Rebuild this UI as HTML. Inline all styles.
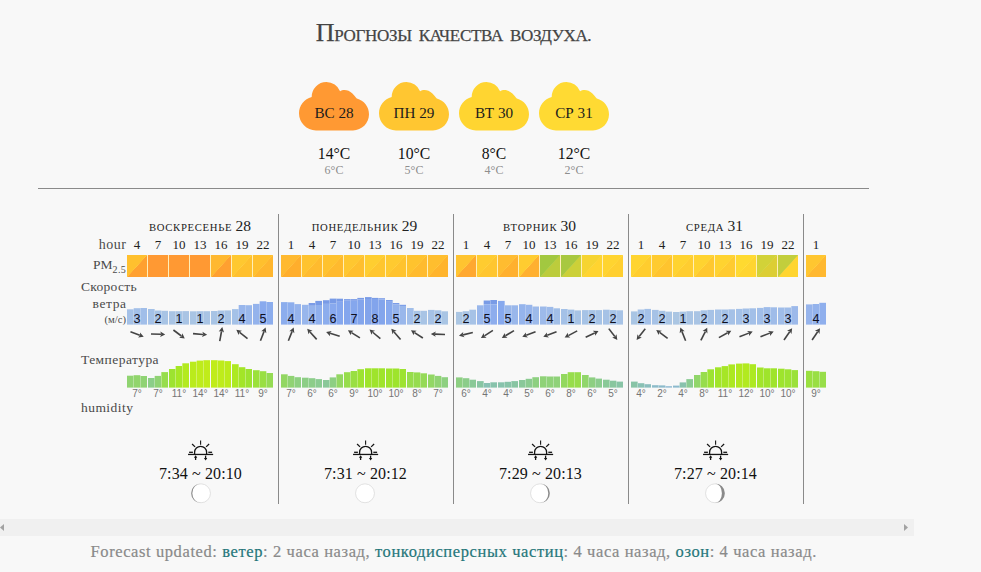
<!DOCTYPE html>
<html lang="ru"><head><meta charset="utf-8"><title>Прогнозы качества воздуха</title>
<style>
html,body{margin:0;padding:0;}
body{width:981px;height:572px;overflow:hidden;background:#f8f8f8;position:relative;font-family:"Liberation Serif",serif;color:#222;}
.a{position:absolute;white-space:nowrap;}
.t{position:absolute;white-space:nowrap;line-height:1;}
.c{text-align:center;}
.r{text-align:right;}
.ttl{left:0;width:907px;top:20.3px;font-size:17px;color:#444;letter-spacing:-0.3px;word-spacing:3px;-webkit-text-stroke:0.25px #444;}
.cl{position:absolute;top:81.7px;width:70px;height:49px;}
.cn{top:104.8px;width:70px;font-size:15.2px;color:#1c1c1c;}
.hi{top:146.3px;width:70px;font-size:15.7px;color:#111;}
.lo{top:163.9px;width:70px;font-size:12px;color:#8e8e8e;}
.hr{left:38px;top:188px;width:831px;height:1px;background:#8a8a8a;}
.vl{top:214px;width:1px;height:290px;background:#8a8a8a;}
.dt{top:218px;font-size:10.7px;color:#222;letter-spacing:0.68px;}
.h{top:238px;width:30px;font-size:13px;color:#222;}
.lb{font-size:13.5px;color:#4a4a4a;}
.pm{position:absolute;top:255px;width:20px;height:22px;}
.pg{position:absolute;top:255px;height:22px;background:#ffefb8;}
.w{position:absolute;}
.wn{top:313.2px;width:20px;font-family:"Liberation Sans",sans-serif;font-size:12.6px;color:#10101e;}
.tl{top:389.2px;width:30px;font-family:"Liberation Sans",sans-serif;font-size:10px;color:#757575;}
.st{top:465.7px;width:120px;font-size:16px;color:#111;letter-spacing:0.12px;}
.ft{left:90.5px;top:543.8px;font-size:16.5px;color:#8a8a8a;letter-spacing:0.6px;-webkit-text-stroke:0.2px;}
.ft b{font-weight:normal;color:#25767a;}
.sb{left:0;top:519.2px;width:913.5px;height:16.5px;background:#f0f0f0;}

</style></head><body>
<div class="t c ttl"><span style="font-size:26px">П</span>РОГНОЗЫ КАЧЕСТВА ВОЗДУХА.</div>
<svg class="cl" style="left:299px" viewBox="0 0 70 49"><path d="M17 48.4 C7.6 48.4 0 40.7 0 31.3 C0 23.5 5.2 17 12.7 14.9 A14.7 14.7 0 0 1 27.4 0 A14.7 14.7 0 0 1 41.1 9.3 C43.8 7.3 49.4 7.4 53.4 11.6 C55.4 13.6 56.6 15.2 57.8 16.6 C65 18.6 70 24.8 70 32.3 C70 41.2 62.8 48.4 54 48.4 Z" fill="#ff9933"/></svg>
<div class="t c cn" style="left:299px">ВС 28</div>
<div class="t c hi" style="left:299px">14°C</div>
<div class="t c lo" style="left:299px">6°C</div>
<svg class="cl" style="left:379px" viewBox="0 0 70 49"><path d="M17 48.4 C7.6 48.4 0 40.7 0 31.3 C0 23.5 5.2 17 12.7 14.9 A14.7 14.7 0 0 1 27.4 0 A14.7 14.7 0 0 1 41.1 9.3 C43.8 7.3 49.4 7.4 53.4 11.6 C55.4 13.6 56.6 15.2 57.8 16.6 C65 18.6 70 24.8 70 32.3 C70 41.2 62.8 48.4 54 48.4 Z" fill="#ffc631"/></svg>
<div class="t c cn" style="left:379px">ПН 29</div>
<div class="t c hi" style="left:379px">10°C</div>
<div class="t c lo" style="left:379px">5°C</div>
<svg class="cl" style="left:459px" viewBox="0 0 70 49"><path d="M17 48.4 C7.6 48.4 0 40.7 0 31.3 C0 23.5 5.2 17 12.7 14.9 A14.7 14.7 0 0 1 27.4 0 A14.7 14.7 0 0 1 41.1 9.3 C43.8 7.3 49.4 7.4 53.4 11.6 C55.4 13.6 56.6 15.2 57.8 16.6 C65 18.6 70 24.8 70 32.3 C70 41.2 62.8 48.4 54 48.4 Z" fill="#ffd531"/></svg>
<div class="t c cn" style="left:459px">ВТ 30</div>
<div class="t c hi" style="left:459px">8°C</div>
<div class="t c lo" style="left:459px">4°C</div>
<svg class="cl" style="left:539px" viewBox="0 0 70 49"><path d="M17 48.4 C7.6 48.4 0 40.7 0 31.3 C0 23.5 5.2 17 12.7 14.9 A14.7 14.7 0 0 1 27.4 0 A14.7 14.7 0 0 1 41.1 9.3 C43.8 7.3 49.4 7.4 53.4 11.6 C55.4 13.6 56.6 15.2 57.8 16.6 C65 18.6 70 24.8 70 32.3 C70 41.2 62.8 48.4 54 48.4 Z" fill="#ffda33"/></svg>
<div class="t c cn" style="left:539px">СР 31</div>
<div class="t c hi" style="left:539px">12°C</div>
<div class="t c lo" style="left:539px">2°C</div>
<div class="a hr"></div>
<div class="a vl" style="left:278px"></div>
<div class="a vl" style="left:453px"></div>
<div class="a vl" style="left:628px"></div>
<div class="a vl" style="left:803px"></div>
<div class="t r lb" style="left:46px;width:80px;top:238.3px;font-size:14px;letter-spacing:0.55px;margin-left:0.5px">hour</div>
<div class="t r lb" style="left:46px;width:80px;top:258.2px">PM<span style="font-size:10px;position:relative;top:3.4px;letter-spacing:0.3px">2.5</span></div>
<div class="t lb" style="left:81px;top:279.5px;letter-spacing:0.3px">Скорость</div>
<div class="t r lb" style="left:46px;width:80px;top:296.8px;letter-spacing:0.6px;margin-left:0.6px">ветра</div>
<div class="t r lb" style="left:46px;width:80px;top:315.3px;font-size:10.6px;margin-left:0">(м/с)</div>
<div class="t lb" style="left:81px;top:352.5px;letter-spacing:0.45px">Температура</div>
<div class="t lb" style="left:81px;top:401px;letter-spacing:0.45px">humidity</div>
<svg class="a" style="left:0;top:290px" width="981" height="100" viewBox="0 290 981 100"><rect x="127.00" y="309.3" width="6.67" height="15.3" fill="#a5c1e7"/><rect x="133.67" y="308.2" width="6.67" height="16.4" fill="#a2bfe8"/><rect x="133.42" y="309.3" width="0.5" height="15.3" fill="#fff" fill-opacity=".16"/><rect x="140.33" y="308.0" width="6.67" height="16.6" fill="#a1bee9"/><rect x="140.08" y="308.2" width="0.5" height="16.4" fill="#fff" fill-opacity=".16"/><rect x="127.00" y="375.7" width="6.67" height="11.9" fill="#90d471"/><rect x="133.67" y="375.2" width="6.67" height="12.4" fill="#91d56c"/><rect x="133.42" y="375.7" width="0.5" height="11.9" fill="#fff" fill-opacity=".3"/><rect x="140.33" y="376.0" width="6.67" height="11.6" fill="#8fd374"/><rect x="140.08" y="376.0" width="0.5" height="11.6" fill="#fff" fill-opacity=".3"/><rect x="148.00" y="309.0" width="6.67" height="15.6" fill="#a4c1e7"/><rect x="154.67" y="310.5" width="6.67" height="14.1" fill="#a7c3e5"/><rect x="154.42" y="310.5" width="0.5" height="14.1" fill="#fff" fill-opacity=".16"/><rect x="161.33" y="310.8" width="6.67" height="13.8" fill="#a8c4e5"/><rect x="161.08" y="310.8" width="0.5" height="13.8" fill="#fff" fill-opacity=".16"/><rect x="148.00" y="378.0" width="6.67" height="9.6" fill="#8cce88"/><rect x="154.67" y="375.9" width="6.67" height="11.7" fill="#90d373"/><rect x="154.42" y="378.0" width="0.5" height="9.6" fill="#fff" fill-opacity=".3"/><rect x="161.33" y="372.1" width="6.67" height="15.5" fill="#97dd4c"/><rect x="161.08" y="375.9" width="0.5" height="11.7" fill="#fff" fill-opacity=".3"/><rect x="169.00" y="311.2" width="6.67" height="13.4" fill="#a9c4e4"/><rect x="175.67" y="311.2" width="6.67" height="13.4" fill="#a9c4e4"/><rect x="175.42" y="311.2" width="0.5" height="13.4" fill="#fff" fill-opacity=".16"/><rect x="182.33" y="311.1" width="6.67" height="13.5" fill="#a9c4e4"/><rect x="182.08" y="311.2" width="0.5" height="13.4" fill="#fff" fill-opacity=".16"/><rect x="169.00" y="369.0" width="6.67" height="18.6" fill="#9de330"/><rect x="175.67" y="366.0" width="6.67" height="21.6" fill="#a6e725"/><rect x="175.42" y="369.0" width="0.5" height="18.6" fill="#fff" fill-opacity=".3"/><rect x="182.33" y="363.3" width="6.67" height="24.3" fill="#b3ea1f"/><rect x="182.08" y="366.0" width="0.5" height="21.6" fill="#fff" fill-opacity=".3"/><rect x="190.00" y="311.3" width="6.67" height="13.3" fill="#a9c5e4"/><rect x="196.67" y="311.2" width="6.67" height="13.4" fill="#a9c4e4"/><rect x="196.42" y="311.3" width="0.5" height="13.3" fill="#fff" fill-opacity=".16"/><rect x="203.33" y="311.2" width="6.67" height="13.4" fill="#a9c4e4"/><rect x="203.08" y="311.2" width="0.5" height="13.4" fill="#fff" fill-opacity=".16"/><rect x="190.00" y="361.7" width="6.67" height="25.9" fill="#baeb1c"/><rect x="196.67" y="360.6" width="6.67" height="27.0" fill="#beec1b"/><rect x="196.42" y="361.7" width="0.5" height="25.9" fill="#fff" fill-opacity=".3"/><rect x="203.33" y="360.2" width="6.67" height="27.4" fill="#c0ec1a"/><rect x="203.08" y="360.6" width="0.5" height="27.0" fill="#fff" fill-opacity=".3"/><rect x="211.00" y="311.0" width="6.67" height="13.6" fill="#a8c4e5"/><rect x="217.67" y="310.5" width="6.67" height="14.1" fill="#a7c3e5"/><rect x="217.42" y="311.0" width="0.5" height="13.6" fill="#fff" fill-opacity=".16"/><rect x="224.33" y="310.4" width="6.67" height="14.2" fill="#a7c3e5"/><rect x="224.08" y="310.5" width="0.5" height="14.1" fill="#fff" fill-opacity=".16"/><rect x="211.00" y="360.2" width="6.67" height="27.4" fill="#c0ec1a"/><rect x="217.67" y="360.5" width="6.67" height="27.1" fill="#beec1b"/><rect x="217.42" y="360.5" width="0.5" height="27.1" fill="#fff" fill-opacity=".3"/><rect x="224.33" y="361.1" width="6.67" height="26.5" fill="#bceb1b"/><rect x="224.08" y="361.1" width="0.5" height="26.5" fill="#fff" fill-opacity=".3"/><rect x="232.00" y="309.1" width="6.67" height="15.5" fill="#a4c1e7"/><rect x="238.67" y="305.0" width="6.67" height="19.6" fill="#98b6ec"/><rect x="238.42" y="309.1" width="0.5" height="15.5" fill="#fff" fill-opacity=".16"/><rect x="245.33" y="305.2" width="6.67" height="19.4" fill="#99b7eb"/><rect x="245.08" y="305.2" width="0.5" height="19.4" fill="#fff" fill-opacity=".16"/><rect x="232.00" y="364.2" width="6.67" height="23.4" fill="#ade921"/><rect x="238.67" y="367.2" width="6.67" height="20.4" fill="#a3e528"/><rect x="238.42" y="367.2" width="0.5" height="20.4" fill="#fff" fill-opacity=".3"/><rect x="245.33" y="369.0" width="6.67" height="18.6" fill="#9de330"/><rect x="245.08" y="369.0" width="0.5" height="18.6" fill="#fff" fill-opacity=".3"/><rect x="253.00" y="303.9" width="6.67" height="20.7" fill="#94b3ec"/><rect x="259.67" y="301.3" width="6.67" height="23.3" fill="#89aaee"/><rect x="259.42" y="303.9" width="0.5" height="20.7" fill="#fff" fill-opacity=".16"/><rect x="266.33" y="302.0" width="6.67" height="22.6" fill="#8caded"/><rect x="266.08" y="302.0" width="0.5" height="22.6" fill="#fff" fill-opacity=".16"/><rect x="253.00" y="370.2" width="6.67" height="17.4" fill="#9be13a"/><rect x="259.67" y="371.2" width="6.67" height="16.4" fill="#99df43"/><rect x="259.42" y="371.2" width="0.5" height="16.4" fill="#fff" fill-opacity=".3"/><rect x="266.33" y="373.0" width="6.67" height="14.6" fill="#95db54"/><rect x="266.08" y="373.0" width="0.5" height="14.6" fill="#fff" fill-opacity=".3"/><rect x="281.00" y="302.1" width="6.67" height="22.5" fill="#8caded"/><rect x="287.67" y="302.3" width="6.67" height="22.3" fill="#8daeed"/><rect x="287.42" y="302.3" width="0.5" height="22.3" fill="#fff" fill-opacity=".16"/><rect x="294.33" y="304.1" width="6.67" height="20.5" fill="#95b3ec"/><rect x="294.08" y="304.1" width="0.5" height="20.5" fill="#fff" fill-opacity=".16"/><rect x="281.00" y="374.3" width="6.67" height="13.3" fill="#93d762"/><rect x="287.67" y="375.9" width="6.67" height="11.7" fill="#90d373"/><rect x="287.42" y="375.9" width="0.5" height="11.7" fill="#fff" fill-opacity=".3"/><rect x="294.33" y="377.2" width="6.67" height="10.4" fill="#8dd080"/><rect x="294.08" y="377.2" width="0.5" height="10.4" fill="#fff" fill-opacity=".3"/><rect x="302.00" y="304.8" width="6.67" height="19.8" fill="#98b6ec"/><rect x="308.67" y="303.0" width="6.67" height="2.8" fill="#7b9ce7"/><rect x="308.67" y="305.8" width="6.67" height="18.8" fill="#96b4ec"/><rect x="308.42" y="304.8" width="0.5" height="19.8" fill="#fff" fill-opacity=".16"/><rect x="315.33" y="300.9" width="6.67" height="4.1" fill="#799be6"/><rect x="315.33" y="305.0" width="6.67" height="19.6" fill="#90b0ed"/><rect x="315.08" y="303.0" width="0.5" height="21.6" fill="#fff" fill-opacity=".16"/><rect x="302.00" y="377.7" width="6.67" height="9.9" fill="#8dce85"/><rect x="308.67" y="378.2" width="6.67" height="9.4" fill="#8ccd8a"/><rect x="308.42" y="378.2" width="0.5" height="9.4" fill="#fff" fill-opacity=".3"/><rect x="315.33" y="379.1" width="6.67" height="8.5" fill="#8acb92"/><rect x="315.08" y="379.1" width="0.5" height="8.5" fill="#fff" fill-opacity=".3"/><rect x="323.00" y="300.2" width="6.67" height="3.7" fill="#799be6"/><rect x="323.00" y="303.9" width="6.67" height="20.7" fill="#8caded"/><rect x="329.67" y="298.6" width="6.67" height="4.9" fill="#799be6"/><rect x="329.67" y="303.5" width="6.67" height="21.1" fill="#88a9ee"/><rect x="329.42" y="300.2" width="0.5" height="24.4" fill="#fff" fill-opacity=".16"/><rect x="336.33" y="298.7" width="6.67" height="3.1" fill="#799be6"/><rect x="336.33" y="301.8" width="6.67" height="22.8" fill="#85a7ee"/><rect x="336.08" y="298.7" width="0.5" height="25.9" fill="#fff" fill-opacity=".16"/><rect x="323.00" y="380.0" width="6.67" height="7.6" fill="#8ac899"/><rect x="329.67" y="377.4" width="6.67" height="10.2" fill="#8dcf82"/><rect x="329.42" y="380.0" width="0.5" height="7.6" fill="#fff" fill-opacity=".3"/><rect x="336.33" y="374.3" width="6.67" height="13.3" fill="#93d762"/><rect x="336.08" y="377.4" width="0.5" height="10.2" fill="#fff" fill-opacity=".3"/><rect x="344.00" y="299.1" width="6.67" height="1.1" fill="#799be6"/><rect x="344.00" y="300.2" width="6.67" height="24.4" fill="#84a6ed"/><rect x="350.67" y="299.1" width="6.67" height="1.7" fill="#799be6"/><rect x="350.67" y="300.8" width="6.67" height="23.8" fill="#85a7ed"/><rect x="350.42" y="299.1" width="0.5" height="25.5" fill="#fff" fill-opacity=".16"/><rect x="357.33" y="297.9" width="6.67" height="1.7" fill="#799be6"/><rect x="357.33" y="299.6" width="6.67" height="25.0" fill="#83a5ec"/><rect x="357.08" y="299.1" width="0.5" height="25.5" fill="#fff" fill-opacity=".16"/><rect x="344.00" y="372.2" width="6.67" height="15.4" fill="#97dd4c"/><rect x="350.67" y="371.0" width="6.67" height="16.6" fill="#99df42"/><rect x="350.42" y="372.2" width="0.5" height="15.4" fill="#fff" fill-opacity=".3"/><rect x="357.33" y="369.2" width="6.67" height="18.4" fill="#9de331"/><rect x="357.08" y="371.0" width="0.5" height="16.6" fill="#fff" fill-opacity=".3"/><rect x="365.00" y="297.1" width="6.67" height="1.9" fill="#799be6"/><rect x="365.00" y="299.0" width="6.67" height="25.6" fill="#82a4eb"/><rect x="371.67" y="297.9" width="6.67" height="1.1" fill="#799be6"/><rect x="371.67" y="299.0" width="6.67" height="25.6" fill="#82a4ec"/><rect x="371.42" y="297.9" width="0.5" height="26.7" fill="#fff" fill-opacity=".16"/><rect x="378.33" y="298.2" width="6.67" height="1.2" fill="#799be6"/><rect x="378.33" y="299.4" width="6.67" height="25.2" fill="#83a5ec"/><rect x="378.08" y="298.2" width="0.5" height="26.4" fill="#fff" fill-opacity=".16"/><rect x="365.00" y="368.3" width="6.67" height="19.3" fill="#9fe42b"/><rect x="371.67" y="368.3" width="6.67" height="19.3" fill="#9fe42b"/><rect x="371.42" y="368.3" width="0.5" height="19.3" fill="#fff" fill-opacity=".3"/><rect x="378.33" y="368.3" width="6.67" height="19.3" fill="#9fe42b"/><rect x="378.08" y="368.3" width="0.5" height="19.3" fill="#fff" fill-opacity=".3"/><rect x="386.00" y="300.0" width="6.67" height="1.8" fill="#799be6"/><rect x="386.00" y="301.8" width="6.67" height="22.8" fill="#87a9ee"/><rect x="392.67" y="303.0" width="6.67" height="1.6" fill="#7b9ce7"/><rect x="392.67" y="304.6" width="6.67" height="20.0" fill="#94b2ec"/><rect x="392.42" y="303.0" width="0.5" height="21.6" fill="#fff" fill-opacity=".16"/><rect x="399.33" y="304.8" width="6.67" height="1.2" fill="#7ea0e9"/><rect x="399.33" y="306.0" width="6.67" height="18.6" fill="#99b7eb"/><rect x="399.08" y="304.8" width="0.5" height="19.8" fill="#fff" fill-opacity=".16"/><rect x="386.00" y="368.5" width="6.67" height="19.1" fill="#9ee42c"/><rect x="392.67" y="368.5" width="6.67" height="19.1" fill="#9ee42c"/><rect x="392.42" y="368.5" width="0.5" height="19.1" fill="#fff" fill-opacity=".3"/><rect x="399.33" y="369.0" width="6.67" height="18.6" fill="#9de330"/><rect x="399.08" y="369.0" width="0.5" height="18.6" fill="#fff" fill-opacity=".3"/><rect x="407.00" y="308.0" width="6.67" height="16.6" fill="#a1bee9"/><rect x="413.67" y="310.8" width="6.67" height="13.8" fill="#a8c4e5"/><rect x="413.42" y="310.8" width="0.5" height="13.8" fill="#fff" fill-opacity=".16"/><rect x="420.33" y="310.8" width="6.67" height="13.8" fill="#a8c4e5"/><rect x="420.08" y="310.8" width="0.5" height="13.8" fill="#fff" fill-opacity=".16"/><rect x="407.00" y="372.0" width="6.67" height="15.6" fill="#97dd4b"/><rect x="413.67" y="372.4" width="6.67" height="15.2" fill="#96dc4e"/><rect x="413.42" y="372.4" width="0.5" height="15.2" fill="#fff" fill-opacity=".3"/><rect x="420.33" y="373.3" width="6.67" height="14.3" fill="#95da57"/><rect x="420.08" y="373.3" width="0.5" height="14.3" fill="#fff" fill-opacity=".3"/><rect x="428.00" y="309.9" width="6.67" height="14.7" fill="#a6c2e6"/><rect x="434.67" y="310.3" width="6.67" height="14.3" fill="#a7c3e6"/><rect x="434.42" y="310.3" width="0.5" height="14.3" fill="#fff" fill-opacity=".16"/><rect x="441.33" y="311.3" width="6.67" height="13.3" fill="#a9c5e4"/><rect x="441.08" y="311.3" width="0.5" height="13.3" fill="#fff" fill-opacity=".16"/><rect x="428.00" y="374.5" width="6.67" height="13.1" fill="#92d764"/><rect x="434.67" y="375.9" width="6.67" height="11.7" fill="#90d373"/><rect x="434.42" y="375.9" width="0.5" height="11.7" fill="#fff" fill-opacity=".3"/><rect x="441.33" y="377.2" width="6.67" height="10.4" fill="#8dd080"/><rect x="441.08" y="377.2" width="0.5" height="10.4" fill="#fff" fill-opacity=".3"/><rect x="456.00" y="311.9" width="6.67" height="12.7" fill="#abc6e3"/><rect x="462.67" y="311.2" width="6.67" height="13.4" fill="#a9c4e4"/><rect x="462.42" y="311.9" width="0.5" height="12.7" fill="#fff" fill-opacity=".16"/><rect x="469.33" y="309.7" width="6.67" height="14.9" fill="#a6c2e6"/><rect x="469.08" y="311.2" width="0.5" height="13.4" fill="#fff" fill-opacity=".16"/><rect x="456.00" y="377.4" width="6.67" height="10.2" fill="#8dcf82"/><rect x="462.67" y="378.2" width="6.67" height="9.4" fill="#8ccd8a"/><rect x="462.42" y="378.2" width="0.5" height="9.4" fill="#fff" fill-opacity=".3"/><rect x="469.33" y="379.7" width="6.67" height="7.9" fill="#8ac997"/><rect x="469.08" y="379.7" width="0.5" height="7.9" fill="#fff" fill-opacity=".3"/><rect x="477.00" y="305.3" width="6.67" height="19.3" fill="#99b7eb"/><rect x="483.67" y="300.5" width="6.67" height="3.8" fill="#799be6"/><rect x="483.67" y="304.3" width="6.67" height="20.3" fill="#8eaeed"/><rect x="483.42" y="305.3" width="0.5" height="19.3" fill="#fff" fill-opacity=".16"/><rect x="490.33" y="300.0" width="6.67" height="4.3" fill="#799be6"/><rect x="490.33" y="304.3" width="6.67" height="20.3" fill="#8daded"/><rect x="490.08" y="300.5" width="0.5" height="24.1" fill="#fff" fill-opacity=".16"/><rect x="477.00" y="381.1" width="6.67" height="6.5" fill="#88c5a2"/><rect x="483.67" y="383.0" width="6.67" height="4.6" fill="#89c1b3"/><rect x="483.42" y="383.0" width="0.5" height="4.6" fill="#fff" fill-opacity=".3"/><rect x="490.33" y="382.3" width="6.67" height="5.3" fill="#88c3ac"/><rect x="490.08" y="383.0" width="0.5" height="4.6" fill="#fff" fill-opacity=".3"/><rect x="498.00" y="300.9" width="6.67" height="23.7" fill="#87a9ee"/><rect x="504.67" y="305.3" width="6.67" height="19.3" fill="#99b7eb"/><rect x="504.42" y="305.3" width="0.5" height="19.3" fill="#fff" fill-opacity=".16"/><rect x="511.33" y="305.3" width="6.67" height="19.3" fill="#99b7eb"/><rect x="511.08" y="305.3" width="0.5" height="19.3" fill="#fff" fill-opacity=".16"/><rect x="498.00" y="382.3" width="6.67" height="5.3" fill="#88c3ac"/><rect x="504.67" y="381.8" width="6.67" height="5.8" fill="#88c4a8"/><rect x="504.42" y="382.3" width="0.5" height="5.3" fill="#fff" fill-opacity=".3"/><rect x="511.33" y="381.1" width="6.67" height="6.5" fill="#88c5a2"/><rect x="511.08" y="381.8" width="0.5" height="5.8" fill="#fff" fill-opacity=".3"/><rect x="519.00" y="304.2" width="6.67" height="20.4" fill="#95b4ec"/><rect x="525.67" y="304.8" width="6.67" height="19.8" fill="#98b6ec"/><rect x="525.42" y="304.8" width="0.5" height="19.8" fill="#fff" fill-opacity=".16"/><rect x="532.33" y="306.5" width="6.67" height="18.1" fill="#9dbaea"/><rect x="532.08" y="306.5" width="0.5" height="18.1" fill="#fff" fill-opacity=".16"/><rect x="519.00" y="380.0" width="6.67" height="7.6" fill="#8ac899"/><rect x="525.67" y="378.8" width="6.67" height="8.8" fill="#8bcb90"/><rect x="525.42" y="380.0" width="0.5" height="7.6" fill="#fff" fill-opacity=".3"/><rect x="532.33" y="377.2" width="6.67" height="10.4" fill="#8dd080"/><rect x="532.08" y="378.8" width="0.5" height="8.8" fill="#fff" fill-opacity=".3"/><rect x="540.00" y="306.5" width="6.67" height="18.1" fill="#9dbaea"/><rect x="546.67" y="306.9" width="6.67" height="17.7" fill="#9ebbea"/><rect x="546.42" y="306.9" width="0.5" height="17.7" fill="#fff" fill-opacity=".16"/><rect x="553.33" y="308.3" width="6.67" height="16.3" fill="#a2bfe8"/><rect x="553.08" y="308.3" width="0.5" height="16.3" fill="#fff" fill-opacity=".16"/><rect x="540.00" y="376.3" width="6.67" height="11.3" fill="#8fd277"/><rect x="546.67" y="376.5" width="6.67" height="11.1" fill="#8fd279"/><rect x="546.42" y="376.5" width="0.5" height="11.1" fill="#fff" fill-opacity=".3"/><rect x="553.33" y="376.5" width="6.67" height="11.1" fill="#8fd279"/><rect x="553.08" y="376.5" width="0.5" height="11.1" fill="#fff" fill-opacity=".3"/><rect x="561.00" y="309.0" width="6.67" height="15.6" fill="#a4c1e7"/><rect x="567.67" y="309.6" width="6.67" height="15.0" fill="#a5c2e7"/><rect x="567.42" y="309.6" width="0.5" height="15.0" fill="#fff" fill-opacity=".16"/><rect x="574.33" y="310.4" width="6.67" height="14.2" fill="#a7c3e5"/><rect x="574.08" y="310.4" width="0.5" height="14.2" fill="#fff" fill-opacity=".16"/><rect x="561.00" y="374.0" width="6.67" height="13.6" fill="#93d85f"/><rect x="567.67" y="372.2" width="6.67" height="15.4" fill="#97dd4c"/><rect x="567.42" y="374.0" width="0.5" height="13.6" fill="#fff" fill-opacity=".3"/><rect x="574.33" y="372.2" width="6.67" height="15.4" fill="#97dd4c"/><rect x="574.08" y="372.2" width="0.5" height="15.4" fill="#fff" fill-opacity=".3"/><rect x="582.00" y="310.1" width="6.67" height="14.5" fill="#a6c3e6"/><rect x="588.67" y="310.1" width="6.67" height="14.5" fill="#a6c3e6"/><rect x="588.42" y="310.1" width="0.5" height="14.5" fill="#fff" fill-opacity=".16"/><rect x="595.33" y="310.1" width="6.67" height="14.5" fill="#a6c3e6"/><rect x="595.08" y="310.1" width="0.5" height="14.5" fill="#fff" fill-opacity=".16"/><rect x="582.00" y="375.0" width="6.67" height="12.6" fill="#91d66a"/><rect x="588.67" y="377.4" width="6.67" height="10.2" fill="#8dcf82"/><rect x="588.42" y="377.4" width="0.5" height="10.2" fill="#fff" fill-opacity=".3"/><rect x="595.33" y="378.6" width="6.67" height="9.0" fill="#8bcc8e"/><rect x="595.08" y="378.6" width="0.5" height="9.0" fill="#fff" fill-opacity=".3"/><rect x="603.00" y="309.7" width="6.67" height="14.9" fill="#a6c2e6"/><rect x="609.67" y="310.1" width="6.67" height="14.5" fill="#a6c3e6"/><rect x="609.42" y="310.1" width="0.5" height="14.5" fill="#fff" fill-opacity=".16"/><rect x="616.33" y="310.3" width="6.67" height="14.3" fill="#a7c3e6"/><rect x="616.08" y="310.3" width="0.5" height="14.3" fill="#fff" fill-opacity=".16"/><rect x="603.00" y="379.7" width="6.67" height="7.9" fill="#8ac997"/><rect x="609.67" y="380.7" width="6.67" height="6.9" fill="#89c69f"/><rect x="609.42" y="380.7" width="0.5" height="6.9" fill="#fff" fill-opacity=".3"/><rect x="616.33" y="381.6" width="6.67" height="6.0" fill="#88c4a6"/><rect x="616.08" y="381.6" width="0.5" height="6.0" fill="#fff" fill-opacity=".3"/><rect x="631.00" y="311.4" width="6.67" height="13.2" fill="#a9c5e4"/><rect x="637.67" y="309.5" width="6.67" height="15.1" fill="#a5c2e7"/><rect x="637.42" y="311.4" width="0.5" height="13.2" fill="#fff" fill-opacity=".16"/><rect x="644.33" y="308.9" width="6.67" height="15.7" fill="#a4c1e8"/><rect x="644.08" y="309.5" width="0.5" height="15.1" fill="#fff" fill-opacity=".16"/><rect x="631.00" y="381.6" width="6.67" height="6.0" fill="#88c4a6"/><rect x="637.67" y="383.2" width="6.67" height="4.4" fill="#89c1b4"/><rect x="637.42" y="383.2" width="0.5" height="4.4" fill="#fff" fill-opacity=".3"/><rect x="644.33" y="384.2" width="6.67" height="3.4" fill="#8abebe"/><rect x="644.08" y="384.2" width="0.5" height="3.4" fill="#fff" fill-opacity=".3"/><rect x="652.00" y="309.9" width="6.67" height="14.7" fill="#a6c2e6"/><rect x="658.67" y="310.8" width="6.67" height="13.8" fill="#a8c4e5"/><rect x="658.42" y="310.8" width="0.5" height="13.8" fill="#fff" fill-opacity=".16"/><rect x="665.33" y="311.6" width="6.67" height="13.0" fill="#aac5e4"/><rect x="665.08" y="311.6" width="0.5" height="13.0" fill="#fff" fill-opacity=".16"/><rect x="652.00" y="385.2" width="6.67" height="2.4" fill="#8cbbc9"/><rect x="658.67" y="385.4" width="6.67" height="2.2" fill="#8cbacb"/><rect x="658.42" y="385.4" width="0.5" height="2.2" fill="#fff" fill-opacity=".3"/><rect x="665.33" y="386.2" width="6.67" height="1.4" fill="#8db8d2"/><rect x="665.08" y="386.2" width="0.5" height="1.4" fill="#fff" fill-opacity=".3"/><rect x="673.00" y="312.0" width="6.67" height="12.6" fill="#abc6e3"/><rect x="679.67" y="311.6" width="6.67" height="13.0" fill="#aac5e4"/><rect x="679.42" y="312.0" width="0.5" height="12.6" fill="#fff" fill-opacity=".16"/><rect x="686.33" y="311.2" width="6.67" height="13.4" fill="#a9c4e4"/><rect x="686.08" y="311.6" width="0.5" height="13.0" fill="#fff" fill-opacity=".16"/><rect x="673.00" y="385.6" width="6.67" height="2.0" fill="#8cbacd"/><rect x="679.67" y="382.4" width="6.67" height="5.2" fill="#88c2ad"/><rect x="679.42" y="385.6" width="0.5" height="2.0" fill="#fff" fill-opacity=".3"/><rect x="686.33" y="379.1" width="6.67" height="8.5" fill="#8acb92"/><rect x="686.08" y="382.4" width="0.5" height="5.2" fill="#fff" fill-opacity=".3"/><rect x="694.00" y="311.2" width="6.67" height="13.4" fill="#a9c4e4"/><rect x="700.67" y="310.3" width="6.67" height="14.3" fill="#a7c3e6"/><rect x="700.42" y="311.2" width="0.5" height="13.4" fill="#fff" fill-opacity=".16"/><rect x="707.33" y="309.9" width="6.67" height="14.7" fill="#a6c2e6"/><rect x="707.08" y="310.3" width="0.5" height="14.3" fill="#fff" fill-opacity=".16"/><rect x="694.00" y="375.0" width="6.67" height="12.6" fill="#91d66a"/><rect x="700.67" y="372.0" width="6.67" height="15.6" fill="#97dd4b"/><rect x="700.42" y="375.0" width="0.5" height="12.6" fill="#fff" fill-opacity=".3"/><rect x="707.33" y="369.3" width="6.67" height="18.3" fill="#9de332"/><rect x="707.08" y="372.0" width="0.5" height="15.6" fill="#fff" fill-opacity=".3"/><rect x="715.00" y="309.5" width="6.67" height="15.1" fill="#a5c2e7"/><rect x="721.67" y="309.5" width="6.67" height="15.1" fill="#a5c2e7"/><rect x="721.42" y="309.5" width="0.5" height="15.1" fill="#fff" fill-opacity=".16"/><rect x="728.33" y="309.3" width="6.67" height="15.3" fill="#a5c1e7"/><rect x="728.08" y="309.5" width="0.5" height="15.1" fill="#fff" fill-opacity=".16"/><rect x="715.00" y="367.3" width="6.67" height="20.3" fill="#a2e529"/><rect x="721.67" y="366.1" width="6.67" height="21.5" fill="#a6e626"/><rect x="721.42" y="367.3" width="0.5" height="20.3" fill="#fff" fill-opacity=".3"/><rect x="728.33" y="364.4" width="6.67" height="23.2" fill="#ace821"/><rect x="728.08" y="366.1" width="0.5" height="21.5" fill="#fff" fill-opacity=".3"/><rect x="736.00" y="308.9" width="6.67" height="15.7" fill="#a4c1e8"/><rect x="742.67" y="308.5" width="6.67" height="16.1" fill="#a3c0e8"/><rect x="742.42" y="308.9" width="0.5" height="15.7" fill="#fff" fill-opacity=".16"/><rect x="749.33" y="308.3" width="6.67" height="16.3" fill="#a2bfe8"/><rect x="749.08" y="308.5" width="0.5" height="16.1" fill="#fff" fill-opacity=".16"/><rect x="736.00" y="363.6" width="6.67" height="24.0" fill="#b1e91f"/><rect x="742.67" y="363.4" width="6.67" height="24.2" fill="#b2ea1f"/><rect x="742.42" y="363.6" width="0.5" height="24.0" fill="#fff" fill-opacity=".3"/><rect x="749.33" y="364.2" width="6.67" height="23.4" fill="#ade921"/><rect x="749.08" y="364.2" width="0.5" height="23.4" fill="#fff" fill-opacity=".3"/><rect x="757.00" y="307.9" width="6.67" height="16.7" fill="#a1bee9"/><rect x="763.67" y="307.1" width="6.67" height="17.5" fill="#9ebcea"/><rect x="763.42" y="307.9" width="0.5" height="16.7" fill="#fff" fill-opacity=".16"/><rect x="770.33" y="307.3" width="6.67" height="17.3" fill="#9fbce9"/><rect x="770.08" y="307.3" width="0.5" height="17.3" fill="#fff" fill-opacity=".16"/><rect x="757.00" y="367.5" width="6.67" height="20.1" fill="#a2e529"/><rect x="763.67" y="368.3" width="6.67" height="19.3" fill="#9fe42b"/><rect x="763.42" y="368.3" width="0.5" height="19.3" fill="#fff" fill-opacity=".3"/><rect x="770.33" y="368.3" width="6.67" height="19.3" fill="#9fe42b"/><rect x="770.08" y="368.3" width="0.5" height="19.3" fill="#fff" fill-opacity=".3"/><rect x="778.00" y="307.5" width="6.67" height="17.1" fill="#a0bde9"/><rect x="784.67" y="307.5" width="6.67" height="17.1" fill="#a0bde9"/><rect x="784.42" y="307.5" width="0.5" height="17.1" fill="#fff" fill-opacity=".16"/><rect x="791.33" y="306.1" width="6.67" height="18.5" fill="#9cb9ea"/><rect x="791.08" y="307.5" width="0.5" height="17.1" fill="#fff" fill-opacity=".16"/><rect x="778.00" y="368.7" width="6.67" height="18.9" fill="#9ee42d"/><rect x="784.67" y="369.3" width="6.67" height="18.3" fill="#9de332"/><rect x="784.42" y="369.3" width="0.5" height="18.3" fill="#fff" fill-opacity=".3"/><rect x="791.33" y="370.1" width="6.67" height="17.5" fill="#9be13a"/><rect x="791.08" y="370.1" width="0.5" height="17.5" fill="#fff" fill-opacity=".3"/><rect x="806.00" y="304.4" width="6.67" height="20.2" fill="#96b4ec"/><rect x="812.67" y="304.0" width="6.67" height="20.6" fill="#94b3ec"/><rect x="812.42" y="304.4" width="0.5" height="20.2" fill="#fff" fill-opacity=".16"/><rect x="819.33" y="302.8" width="6.67" height="21.8" fill="#8fafed"/><rect x="819.08" y="304.0" width="0.5" height="20.6" fill="#fff" fill-opacity=".16"/><rect x="806.00" y="370.8" width="6.67" height="16.8" fill="#9ae040"/><rect x="812.67" y="371.2" width="6.67" height="16.4" fill="#99df43"/><rect x="812.42" y="371.2" width="0.5" height="16.4" fill="#fff" fill-opacity=".3"/><rect x="819.33" y="371.8" width="6.67" height="15.8" fill="#98de49"/><rect x="819.08" y="371.8" width="0.5" height="15.8" fill="#fff" fill-opacity=".3"/></svg>
<div class="t c dt" style="left:107px;width:186px">ВОСКРЕСЕНЬЕ <span style="font-size:15.5px;letter-spacing:0">28</span></div>
<div class="pg" style="left:127px;width:146px"></div>
<div class="t c h" style="left:122px">4</div>
<div class="pm" style="left:127px;background:linear-gradient(to bottom right,#ffc02e 48.5%,#ffc643 50%,#ffa030 51.5%)"></div>
<div class="t c wn" style="left:127px">3</div>
<div class="t c tl" style="left:122px">7°</div>
<div class="t c h" style="left:143px">7</div>
<div class="pm" style="left:148px;background:#ff9933"></div>
<div class="t c wn" style="left:148px">2</div>
<div class="t c tl" style="left:143px">7°</div>
<div class="t c h" style="left:164px">10</div>
<div class="pm" style="left:169px;background:#ff9933"></div>
<div class="t c wn" style="left:169px">1</div>
<div class="t c tl" style="left:164px">11°</div>
<div class="t c h" style="left:185px">13</div>
<div class="pm" style="left:190px;background:#ff9933"></div>
<div class="t c wn" style="left:190px">1</div>
<div class="t c tl" style="left:185px">14°</div>
<div class="t c h" style="left:206px">16</div>
<div class="pm" style="left:211px;background:linear-gradient(to bottom right,#ffb830 48.5%,#ffbf45 50%,#ffa030 51.5%)"></div>
<div class="t c wn" style="left:211px">2</div>
<div class="t c tl" style="left:206px">14°</div>
<div class="t c h" style="left:227px">19</div>
<div class="pm" style="left:232px;background:linear-gradient(to bottom right,#ffc830 48.5%,#ffce45 50%,#ffc02e 51.5%)"></div>
<div class="t c wn" style="left:232px">4</div>
<div class="t c tl" style="left:227px">11°</div>
<div class="t c h" style="left:248px">22</div>
<div class="pm" style="left:253px;background:linear-gradient(to bottom right,#ffc02e 48.5%,#ffc643 50%,#ffb62e 51.5%)"></div>
<div class="t c wn" style="left:253px">5</div>
<div class="t c tl" style="left:248px">9°</div>
<div class="t c dt" style="left:261px;width:207px">ПОНЕДЕЛЬНИК <span style="font-size:15.5px;letter-spacing:0">29</span></div>
<div class="pg" style="left:281px;width:167px"></div>
<div class="t c h" style="left:276px">1</div>
<div class="pm" style="left:281px;background:linear-gradient(to bottom right,#ffb930 48.5%,#ffc045 50%,#ffae2c 51.5%)"></div>
<div class="t c wn" style="left:281px">4</div>
<div class="t c tl" style="left:276px">7°</div>
<div class="t c h" style="left:297px">4</div>
<div class="pm" style="left:302px;background:linear-gradient(to bottom right,#ffc32f 48.5%,#ffc944 50%,#ffbb2e 51.5%)"></div>
<div class="t c wn" style="left:302px">4</div>
<div class="t c tl" style="left:297px">6°</div>
<div class="t c h" style="left:318px">7</div>
<div class="pm" style="left:323px;background:linear-gradient(to bottom right,#ffc22e 48.5%,#ffc843 50%,#ffba2e 51.5%)"></div>
<div class="t c wn" style="left:323px">6</div>
<div class="t c tl" style="left:318px">6°</div>
<div class="t c h" style="left:339px">10</div>
<div class="pm" style="left:344px;background:linear-gradient(to bottom right,#ffc730 48.5%,#ffcd45 50%,#ffbf2e 51.5%)"></div>
<div class="t c wn" style="left:344px">7</div>
<div class="t c tl" style="left:339px">9°</div>
<div class="t c h" style="left:360px">13</div>
<div class="pm" style="left:365px;background:linear-gradient(to bottom right,#ffce30 48.5%,#ffd345 50%,#ffc62f 51.5%)"></div>
<div class="t c wn" style="left:365px">8</div>
<div class="t c tl" style="left:360px">10°</div>
<div class="t c h" style="left:381px">16</div>
<div class="pm" style="left:386px;background:linear-gradient(to bottom right,#ffca30 48.5%,#ffcf45 50%,#ffc32e 51.5%)"></div>
<div class="t c wn" style="left:386px">5</div>
<div class="t c tl" style="left:381px">10°</div>
<div class="t c h" style="left:402px">19</div>
<div class="pm" style="left:407px;background:linear-gradient(to bottom right,#ffc32e 48.5%,#ffc943 50%,#ffbb2e 51.5%)"></div>
<div class="t c wn" style="left:407px">2</div>
<div class="t c tl" style="left:402px">8°</div>
<div class="t c h" style="left:423px">22</div>
<div class="pm" style="left:428px;background:linear-gradient(to bottom right,#ffbe2e 48.5%,#ffc443 50%,#ffb42c 51.5%)"></div>
<div class="t c wn" style="left:428px">2</div>
<div class="t c tl" style="left:423px">7°</div>
<div class="t c dt" style="left:436px;width:207px">ВТОРНИК <span style="font-size:15.5px;letter-spacing:0">30</span></div>
<div class="pg" style="left:456px;width:167px"></div>
<div class="t c h" style="left:451px">1</div>
<div class="pm" style="left:456px;background:linear-gradient(to bottom right,#ffc430 48.5%,#ffca45 50%,#ffa830 51.5%)"></div>
<div class="t c wn" style="left:456px">2</div>
<div class="t c tl" style="left:451px">6°</div>
<div class="t c h" style="left:472px">4</div>
<div class="pm" style="left:477px;background:linear-gradient(to bottom right,#ffcc30 48.5%,#ffd145 50%,#ffc630 51.5%)"></div>
<div class="t c wn" style="left:477px">5</div>
<div class="t c tl" style="left:472px">4°</div>
<div class="t c h" style="left:493px">7</div>
<div class="pm" style="left:498px;background:linear-gradient(to bottom right,#ffbc30 48.5%,#ffc345 50%,#ffb02e 51.5%)"></div>
<div class="t c wn" style="left:498px">5</div>
<div class="t c tl" style="left:493px">4°</div>
<div class="t c h" style="left:514px">10</div>
<div class="pm" style="left:519px;background:linear-gradient(to bottom right,#ffcc30 48.5%,#ffd145 50%,#ffb030 51.5%)"></div>
<div class="t c wn" style="left:519px">4</div>
<div class="t c tl" style="left:514px">5°</div>
<div class="t c h" style="left:535px">13</div>
<div class="pm" style="left:540px;background:linear-gradient(to bottom right,#a2c840 48.5%,#abce53 50%,#bccc3c 51.5%)"></div>
<div class="t c wn" style="left:540px">4</div>
<div class="t c tl" style="left:535px">6°</div>
<div class="t c h" style="left:556px">16</div>
<div class="pm" style="left:561px;background:linear-gradient(to bottom right,#a8c840 48.5%,#b1ce53 50%,#ccd038 51.5%)"></div>
<div class="t c wn" style="left:561px">1</div>
<div class="t c tl" style="left:556px">8°</div>
<div class="t c h" style="left:577px">19</div>
<div class="pm" style="left:582px;background:linear-gradient(to bottom right,#f6d431 48.5%,#f7d846 50%,#ffd430 51.5%)"></div>
<div class="t c wn" style="left:582px">2</div>
<div class="t c tl" style="left:577px">6°</div>
<div class="t c h" style="left:598px">22</div>
<div class="pm" style="left:603px;background:linear-gradient(to bottom right,#ffd430 48.5%,#ffd845 50%,#ffcf30 51.5%)"></div>
<div class="t c wn" style="left:603px">2</div>
<div class="t c tl" style="left:598px">5°</div>
<div class="t c dt" style="left:611px;width:207px">СРЕДА <span style="font-size:15.5px;letter-spacing:0">31</span></div>
<div class="pg" style="left:631px;width:167px"></div>
<div class="t c h" style="left:626px">1</div>
<div class="pm" style="left:631px;background:linear-gradient(to bottom right,#ffd430 48.5%,#ffd845 50%,#ffcd2e 51.5%)"></div>
<div class="t c wn" style="left:631px">2</div>
<div class="t c tl" style="left:626px">4°</div>
<div class="t c h" style="left:647px">4</div>
<div class="pm" style="left:652px;background:linear-gradient(to bottom right,#ffcb30 48.5%,#ffd045 50%,#ffc42e 51.5%)"></div>
<div class="t c wn" style="left:652px">2</div>
<div class="t c tl" style="left:647px">2°</div>
<div class="t c h" style="left:668px">7</div>
<div class="pm" style="left:673px;background:linear-gradient(to bottom right,#ffd330 48.5%,#ffd745 50%,#ffcd30 51.5%)"></div>
<div class="t c wn" style="left:673px">1</div>
<div class="t c tl" style="left:668px">4°</div>
<div class="t c h" style="left:689px">10</div>
<div class="pm" style="left:694px;background:linear-gradient(to bottom right,#ffd330 48.5%,#ffd745 50%,#ffc82f 51.5%)"></div>
<div class="t c wn" style="left:694px">2</div>
<div class="t c tl" style="left:689px">8°</div>
<div class="t c h" style="left:710px">13</div>
<div class="pm" style="left:715px;background:linear-gradient(to bottom right,#ffd330 48.5%,#ffd745 50%,#ffcb30 51.5%)"></div>
<div class="t c wn" style="left:715px">2</div>
<div class="t c tl" style="left:710px">11°</div>
<div class="t c h" style="left:731px">16</div>
<div class="pm" style="left:736px;background:linear-gradient(to bottom right,#ffda30 48.5%,#ffde45 50%,#ffd530 51.5%)"></div>
<div class="t c wn" style="left:736px">3</div>
<div class="t c tl" style="left:731px">12°</div>
<div class="t c h" style="left:752px">19</div>
<div class="pm" style="left:757px;background:linear-gradient(to bottom right,#d2d238 48.5%,#d6d64c 50%,#dcce34 51.5%)"></div>
<div class="t c wn" style="left:757px">3</div>
<div class="t c tl" style="left:752px">10°</div>
<div class="t c h" style="left:773px">22</div>
<div class="pm" style="left:778px;background:linear-gradient(to bottom right,#c2ce3c 48.5%,#c8d350 50%,#ffd530 51.5%)"></div>
<div class="t c wn" style="left:778px">3</div>
<div class="t c tl" style="left:773px">10°</div>
<div class="pg" style="left:806px;width:20px"></div>
<div class="t c h" style="left:801px">1</div>
<div class="pm" style="left:806px;background:linear-gradient(to bottom right,#ffc630 48.5%,#ffcc45 50%,#ffb830 51.5%)"></div>
<div class="t c wn" style="left:806px">4</div>
<div class="t c tl" style="left:801px">9°</div>
<svg class="a" style="left:0;top:322px" width="981" height="26" viewBox="0 322 981 26">
<g transform="translate(137.0 334.2) rotate(20.6)"><path d="M-7 0H3" stroke="#444" stroke-width="1.6" fill="none"/><path d="M7.2 0L2.2 -2.7L3.3 0L2.2 2.7Z" fill="#444"/></g>
<g transform="translate(158.0 334.2) rotate(2.0)"><path d="M-7 0H3" stroke="#444" stroke-width="1.6" fill="none"/><path d="M7.2 0L2.2 -2.7L3.3 0L2.2 2.7Z" fill="#444"/></g>
<g transform="translate(179.0 334.2) rotate(37.0)"><path d="M-7 0H3" stroke="#444" stroke-width="1.6" fill="none"/><path d="M7.2 0L2.2 -2.7L3.3 0L2.2 2.7Z" fill="#444"/></g>
<g transform="translate(200.0 334.2) rotate(5.0)"><path d="M-7 0H3" stroke="#444" stroke-width="1.6" fill="none"/><path d="M7.2 0L2.2 -2.7L3.3 0L2.2 2.7Z" fill="#444"/></g>
<g transform="translate(221.0 334.2) rotate(-79.7)"><path d="M-7 0H3" stroke="#444" stroke-width="1.6" fill="none"/><path d="M7.2 0L2.2 -2.7L3.3 0L2.2 2.7Z" fill="#444"/></g>
<g transform="translate(242.0 334.2) rotate(-142.0)"><path d="M-7 0H3" stroke="#444" stroke-width="1.6" fill="none"/><path d="M7.2 0L2.2 -2.7L3.3 0L2.2 2.7Z" fill="#444"/></g>
<g transform="translate(263.0 334.2) rotate(-68.7)"><path d="M-7 0H3" stroke="#444" stroke-width="1.6" fill="none"/><path d="M7.2 0L2.2 -2.7L3.3 0L2.2 2.7Z" fill="#444"/></g>
<g transform="translate(291.0 334.2) rotate(-68.0)"><path d="M-7 0H3" stroke="#444" stroke-width="1.6" fill="none"/><path d="M7.2 0L2.2 -2.7L3.3 0L2.2 2.7Z" fill="#444"/></g>
<g transform="translate(312.0 334.2) rotate(-132.0)"><path d="M-7 0H3" stroke="#444" stroke-width="1.6" fill="none"/><path d="M7.2 0L2.2 -2.7L3.3 0L2.2 2.7Z" fill="#444"/></g>
<g transform="translate(333.0 334.2) rotate(-163.0)"><path d="M-7 0H3" stroke="#444" stroke-width="1.6" fill="none"/><path d="M7.2 0L2.2 -2.7L3.3 0L2.2 2.7Z" fill="#444"/></g>
<g transform="translate(354.0 334.2) rotate(-147.7)"><path d="M-7 0H3" stroke="#444" stroke-width="1.6" fill="none"/><path d="M7.2 0L2.2 -2.7L3.3 0L2.2 2.7Z" fill="#444"/></g>
<g transform="translate(375.0 334.2) rotate(-139.8)"><path d="M-7 0H3" stroke="#444" stroke-width="1.6" fill="none"/><path d="M7.2 0L2.2 -2.7L3.3 0L2.2 2.7Z" fill="#444"/></g>
<g transform="translate(396.0 334.2) rotate(-130.7)"><path d="M-7 0H3" stroke="#444" stroke-width="1.6" fill="none"/><path d="M7.2 0L2.2 -2.7L3.3 0L2.2 2.7Z" fill="#444"/></g>
<g transform="translate(417.0 334.2) rotate(-146.8)"><path d="M-7 0H3" stroke="#444" stroke-width="1.6" fill="none"/><path d="M7.2 0L2.2 -2.7L3.3 0L2.2 2.7Z" fill="#444"/></g>
<g transform="translate(438.0 334.2) rotate(-178.0)"><path d="M-7 0H3" stroke="#444" stroke-width="1.6" fill="none"/><path d="M7.2 0L2.2 -2.7L3.3 0L2.2 2.7Z" fill="#444"/></g>
<g transform="translate(466.0 334.2) rotate(166.6)"><path d="M-7 0H3" stroke="#444" stroke-width="1.6" fill="none"/><path d="M7.2 0L2.2 -2.7L3.3 0L2.2 2.7Z" fill="#444"/></g>
<g transform="translate(487.0 334.2) rotate(147.6)"><path d="M-7 0H3" stroke="#444" stroke-width="1.6" fill="none"/><path d="M7.2 0L2.2 -2.7L3.3 0L2.2 2.7Z" fill="#444"/></g>
<g transform="translate(508.0 334.2) rotate(149.0)"><path d="M-7 0H3" stroke="#444" stroke-width="1.6" fill="none"/><path d="M7.2 0L2.2 -2.7L3.3 0L2.2 2.7Z" fill="#444"/></g>
<g transform="translate(529.0 334.2) rotate(159.0)"><path d="M-7 0H3" stroke="#444" stroke-width="1.6" fill="none"/><path d="M7.2 0L2.2 -2.7L3.3 0L2.2 2.7Z" fill="#444"/></g>
<g transform="translate(550.0 334.2) rotate(159.0)"><path d="M-7 0H3" stroke="#444" stroke-width="1.6" fill="none"/><path d="M7.2 0L2.2 -2.7L3.3 0L2.2 2.7Z" fill="#444"/></g>
<g transform="translate(571.0 334.2) rotate(152.0)"><path d="M-7 0H3" stroke="#444" stroke-width="1.6" fill="none"/><path d="M7.2 0L2.2 -2.7L3.3 0L2.2 2.7Z" fill="#444"/></g>
<g transform="translate(592.0 334.2) rotate(-25.5)"><path d="M-7 0H3" stroke="#444" stroke-width="1.6" fill="none"/><path d="M7.2 0L2.2 -2.7L3.3 0L2.2 2.7Z" fill="#444"/></g>
<g transform="translate(613.0 334.2) rotate(53.0)"><path d="M-7 0H3" stroke="#444" stroke-width="1.6" fill="none"/><path d="M7.2 0L2.2 -2.7L3.3 0L2.2 2.7Z" fill="#444"/></g>
<g transform="translate(641.0 334.2) rotate(127.6)"><path d="M-7 0H3" stroke="#444" stroke-width="1.6" fill="none"/><path d="M7.2 0L2.2 -2.7L3.3 0L2.2 2.7Z" fill="#444"/></g>
<g transform="translate(662.0 334.2) rotate(-143.5)"><path d="M-7 0H3" stroke="#444" stroke-width="1.6" fill="none"/><path d="M7.2 0L2.2 -2.7L3.3 0L2.2 2.7Z" fill="#444"/></g>
<g transform="translate(683.0 334.2) rotate(-112.0)"><path d="M-7 0H3" stroke="#444" stroke-width="1.6" fill="none"/><path d="M7.2 0L2.2 -2.7L3.3 0L2.2 2.7Z" fill="#444"/></g>
<g transform="translate(704.0 334.2) rotate(-63.4)"><path d="M-7 0H3" stroke="#444" stroke-width="1.6" fill="none"/><path d="M7.2 0L2.2 -2.7L3.3 0L2.2 2.7Z" fill="#444"/></g>
<g transform="translate(725.0 334.2) rotate(-29.3)"><path d="M-7 0H3" stroke="#444" stroke-width="1.6" fill="none"/><path d="M7.2 0L2.2 -2.7L3.3 0L2.2 2.7Z" fill="#444"/></g>
<g transform="translate(746.0 334.2) rotate(-21.0)"><path d="M-7 0H3" stroke="#444" stroke-width="1.6" fill="none"/><path d="M7.2 0L2.2 -2.7L3.3 0L2.2 2.7Z" fill="#444"/></g>
<g transform="translate(767.0 334.2) rotate(-21.0)"><path d="M-7 0H3" stroke="#444" stroke-width="1.6" fill="none"/><path d="M7.2 0L2.2 -2.7L3.3 0L2.2 2.7Z" fill="#444"/></g>
<g transform="translate(788.0 334.2) rotate(-55.0)"><path d="M-7 0H3" stroke="#444" stroke-width="1.6" fill="none"/><path d="M7.2 0L2.2 -2.7L3.3 0L2.2 2.7Z" fill="#444"/></g>
<g transform="translate(816.0 334.2) rotate(-56.0)"><path d="M-7 0H3" stroke="#444" stroke-width="1.6" fill="none"/><path d="M7.2 0L2.2 -2.7L3.3 0L2.2 2.7Z" fill="#444"/></g>
</svg>
<svg class="a" style="left:187px;top:440px" width="27" height="22" viewBox="-0.6 0 27 22"><g stroke="#151515" stroke-width="1.3" fill="none"><path d="M0.45 14.45H25.55"/><path d="M7 14.4V12.3A6 6 0 0 1 19 12.3V14.4"/><path d="M13 0.4V4.8" stroke-width="1.1"/><path d="M4.5 4.05L7.45 6.9"/><path d="M21.5 4.05L18.55 6.9"/><path d="M1.5 12.3H5.3"/><path d="M20.7 12.3H24.5"/><path d="M8 16.6V20"/><path d="M18 15.6V19.2"/></g><path d="M8 15.3L6.3 17.7H9.7Z M18 20.4L16.3 18H19.7Z" fill="#151515"/></svg>
<div class="t c st" style="left:140.5px">7:34 ~ 20:10</div>
<svg class="a" style="left:188px;top:481px" width="25" height="25" viewBox="-13.0 -12.3 25 25"><circle r="9.45" fill="#fff" stroke="#d6d6d6" stroke-width="0.7"/><path transform="scale(-1 1)" d="M0 -9.8A9.8 9.8 0 0 1 0 9.8A8.70 9.8 0 0 0 0 -9.8Z" fill="#8a8a8a"/></svg>
<svg class="a" style="left:352px;top:440px" width="27" height="22" viewBox="-0.6 0 27 22"><g stroke="#151515" stroke-width="1.3" fill="none"><path d="M0.45 14.45H25.55"/><path d="M7 14.4V12.3A6 6 0 0 1 19 12.3V14.4"/><path d="M13 0.4V4.8" stroke-width="1.1"/><path d="M4.5 4.05L7.45 6.9"/><path d="M21.5 4.05L18.55 6.9"/><path d="M1.5 12.3H5.3"/><path d="M20.7 12.3H24.5"/><path d="M8 16.6V20"/><path d="M18 15.6V19.2"/></g><path d="M8 15.3L6.3 17.7H9.7Z M18 20.4L16.3 18H19.7Z" fill="#151515"/></svg>
<div class="t c st" style="left:305.5px">7:31 ~ 20:12</div>
<svg class="a" style="left:352px;top:481px" width="25" height="25" viewBox="-13.0 -12.3 25 25"><circle r="9.45" fill="#fff" stroke="#d6d6d6" stroke-width="0.7"/><path transform="scale(1 1)" d="M0 -9.8A9.8 9.8 0 0 1 0 9.8A9.80 9.8 0 0 0 0 -9.8Z" fill="#8a8a8a"/></svg>
<svg class="a" style="left:527px;top:440px" width="27" height="22" viewBox="-0.6 0 27 22"><g stroke="#151515" stroke-width="1.3" fill="none"><path d="M0.45 14.45H25.55"/><path d="M7 14.4V12.3A6 6 0 0 1 19 12.3V14.4"/><path d="M13 0.4V4.8" stroke-width="1.1"/><path d="M4.5 4.05L7.45 6.9"/><path d="M21.5 4.05L18.55 6.9"/><path d="M1.5 12.3H5.3"/><path d="M20.7 12.3H24.5"/><path d="M8 16.6V20"/><path d="M18 15.6V19.2"/></g><path d="M8 15.3L6.3 17.7H9.7Z M18 20.4L16.3 18H19.7Z" fill="#151515"/></svg>
<div class="t c st" style="left:480.5px">7:29 ~ 20:13</div>
<svg class="a" style="left:527px;top:481px" width="25" height="25" viewBox="-13.0 -12.3 25 25"><circle r="9.45" fill="#fff" stroke="#d6d6d6" stroke-width="0.7"/><path transform="scale(1 1)" d="M0 -9.8A9.8 9.8 0 0 1 0 9.8A8.30 9.8 0 0 0 0 -9.8Z" fill="#8a8a8a"/></svg>
<svg class="a" style="left:702px;top:440px" width="27" height="22" viewBox="-0.6 0 27 22"><g stroke="#151515" stroke-width="1.3" fill="none"><path d="M0.45 14.45H25.55"/><path d="M7 14.4V12.3A6 6 0 0 1 19 12.3V14.4"/><path d="M13 0.4V4.8" stroke-width="1.1"/><path d="M4.5 4.05L7.45 6.9"/><path d="M21.5 4.05L18.55 6.9"/><path d="M1.5 12.3H5.3"/><path d="M20.7 12.3H24.5"/><path d="M8 16.6V20"/><path d="M18 15.6V19.2"/></g><path d="M8 15.3L6.3 17.7H9.7Z M18 20.4L16.3 18H19.7Z" fill="#151515"/></svg>
<div class="t c st" style="left:655.5px">7:27 ~ 20:14</div>
<svg class="a" style="left:702px;top:481px" width="25" height="25" viewBox="-13.0 -12.3 25 25"><circle r="9.45" fill="#fff" stroke="#d6d6d6" stroke-width="0.7"/><path transform="scale(1 1)" d="M0 -9.8A9.8 9.8 0 0 1 0 9.8A6.90 9.8 0 0 0 0 -9.8Z" fill="#8a8a8a"/></svg>
<div class="a sb"></div>
<svg class="a" style="left:0;top:519px" width="915" height="17" viewBox="0 0 915 17"><path d="M0 8.5L4 4.9V12.1Z" fill="#a2a2a2"/><path d="M908 8.5L904 4.9V12.1Z" fill="#a2a2a2"/></svg>
<div class="t ft">Forecast updated: <b>ветер</b>: 2 часа назад, <b>тонкодисперсных частиц</b>: 4 часа назад, <b>озон</b>: 4 часа назад.</div>
</body></html>
